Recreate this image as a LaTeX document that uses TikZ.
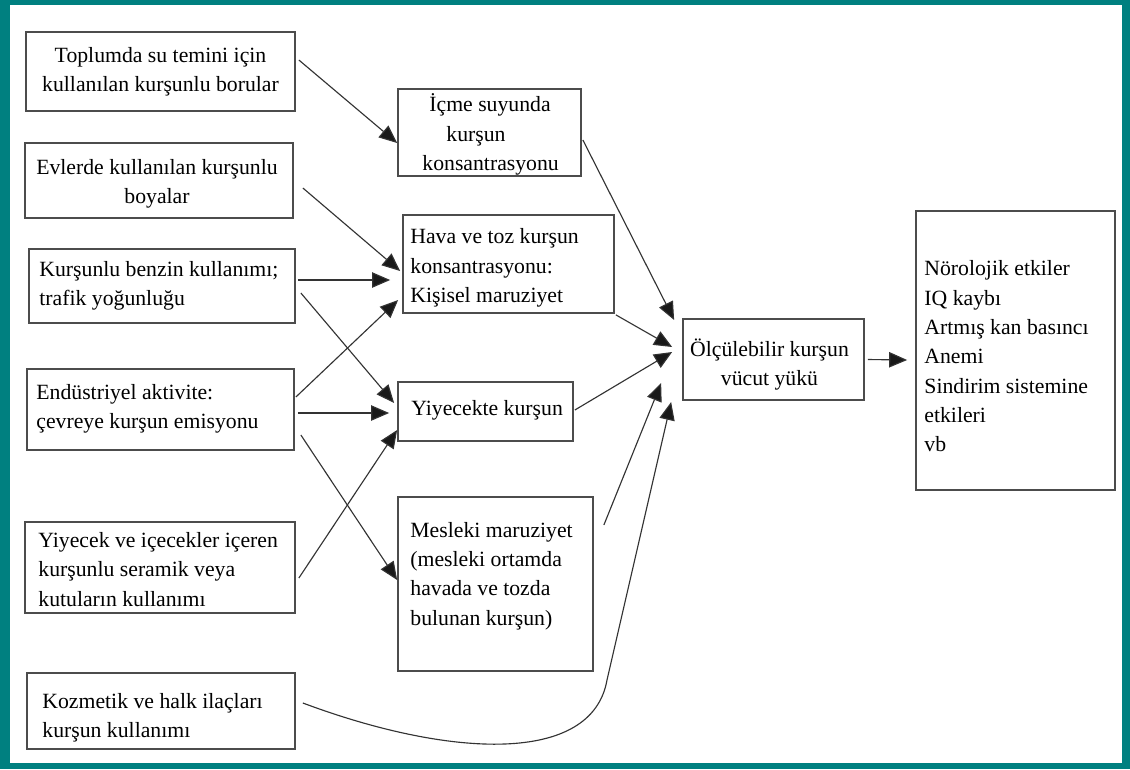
\documentclass[tikz,border=0pt]{standalone}
\usepackage{fontspec}
\setmainfont{Liberation Serif}
\usetikzlibrary{calc,arrows.meta}
\definecolor{frameteal}{RGB}{0,128,128}
\begin{document}
\begin{tikzpicture}[x=0.75pt,y=-0.75pt,
  box/.style 2 args={draw=black!70, line width=1.3pt, fill=white, inner sep=0pt,
    minimum width=#1*0.75pt, minimum height=#2*0.75pt},
  txt/.style={inner sep=0pt, font=\fontsize{16.3}{22}\selectfont, align=left},
  ctxt/.style={txt, align=center},
  link/.style={draw=black!80, line width=0.85pt,
    -{Triangle[length=13.5pt,width=11.5pt,fill=black!90]}}]

% frame
\useasboundingbox (0,0) rectangle (1130,769);
\fill[frameteal] (0,0) rectangle (1130,769);
\fill[white] (10,5) rectangle (1122,763);

% sources of lead
\node[box={269}{79}] (src1) at (160.5,71.5) {};
\node[ctxt] (src1t) at (src1.center) {Toplumda su temini için\\kullanılan kurşunlu borular};

\node[box={268}{75}] (src2) at (159,180.5) {};
\node[ctxt] (src2t) at ($(src2.center)+(-2,3)$) {Evlerde kullanılan kurşunlu\\boyalar};

\node[box={266}{74}] (src3) at (162,286) {};
\node[txt, anchor=west] (src3t) at ($(src3.west)+(11,0)$) {Kurşunlu benzin kullanımı;\\trafik yoğunluğu};

\node[box={267}{81}] (src4) at (160.5,409.5) {};
\node[txt, anchor=west] (src4t) at ($(src4.west)+(10,-1)$) {Endüstriyel aktivite:\\çevreye kurşun emisyonu};

\node[box={270}{91}] (src5) at (160,567.5) {};
\node[txt, anchor=west] (src5t) at ($(src5.west)+(14,2)$) {Yiyecek ve içecekler içeren\\kurşunlu seramik veya\\kutuların kullanımı};

\node[box={268}{76}] (src6) at (161,711) {};
\node[txt, anchor=west] (src6t) at ($(src6.west)+(16,7)$) {Kozmetik ve halk ilaçları\\kurşun kullanımı};

% exposure pathways
\node[box={183}{87}] (water) at (489.5,132.5) {};
\node[txt, anchor=west] (watert) at ($(water.west)+(25,2)$) {\hspace*{5.25pt}İçme suyunda\\\hspace*{18pt}kurşun\\konsantrasyonu};

\node[box={211}{98}] (air) at (508.5,264) {};
\node[txt, anchor=west] (airt) at ($(air.west)+(8,4)$) {Hava ve toz kurşun\\konsantrasyonu:\\Kişisel maruziyet};

\node[box={175}{59}] (food) at (485.5,411.5) {};
\node[txt, anchor=west] (foodt) at ($(food.west)+(14,-1)$) {Yiyecekte kurşun};

\node[box={195}{174}] (work) at (495.5,584) {};
\node[txt, anchor=west] (workt) at ($(work.west)+(13,-8)$) {Mesleki maruziyet\\(mesleki ortamda\\havada ve tozda\\bulunan kurşun)};

% body burden and effects
\node[box={181}{81}] (body) at (773.5,359.5) {};
\node[ctxt] (bodyt) at ($(body.center)+(-4,5)$) {Ölçülebilir kurşun\\vücut yükü};

\node[box={199}{279}] (fx) at (1015.5,350.5) {};
\node[txt, anchor=west] (fxt) at ($(fx.west)+(9,6)$) {Nörolojik etkiler\\IQ kaybı\\Artmış kan basıncı\\Anemi\\Sindirim sistemine\\etkileri\\vb};

% connectors
\draw[link] ($(src1.east)+(3,-11.5)$) -- ($(water.west)+(0,10.5)$);
\draw[link] ($(src2.east)+(9,7.5)$) -- ($(air.west)+(-2,7)$);
\draw[link] ($(src3.east)+(2,-6)$) -- ($(air.west)+(-12,16)$);
\draw[link] ($(src3.east)+(5,7)$) -- ($(food.west)+(-3,-8.5)$);
\draw[link] ($(src4.east)+(1,-12.5)$) -- ($(air.west)+(-4,36)$);
\draw[link] ($(src4.east)+(3,3.5)$) -- ($(food.west)+(-8,1.5)$);
\draw[link] ($(src4.east)+(6,25.5)$) -- ($(work.west)+(0,-4)$);
\draw[link] ($(src5.east)+(3,10.5)$) -- ($(food.west)+(0,18.5)$);
\draw[link] ($(water.east)+(1,7.5)$) -- ($(body.west)+(-8,-39.5)$);
\draw[link] ($(air.south east)+(1,1)$) -- ($(body.west)+(-10,-12.5)$);
\draw[link] ($(food.east)+(1,-1.5)$) -- ($(body.west)+(-10,-7.5)$);
\draw[link] ($(work.east)+(10,-59)$) -- ($(body.west)+(-21,23.5)$);
\coordinate (kink) at (607,680);
\draw[link] ($(src6.east)+(7,-8)$) .. controls (450,758) and (592,765) .. (kink) -- ($(body.west)+(-11,42.5)$);
\draw[link] ($(body.east)+(3,0)$) -- ($(fx.west)+(-8,9.5)$);
\end{tikzpicture}
\end{document}
